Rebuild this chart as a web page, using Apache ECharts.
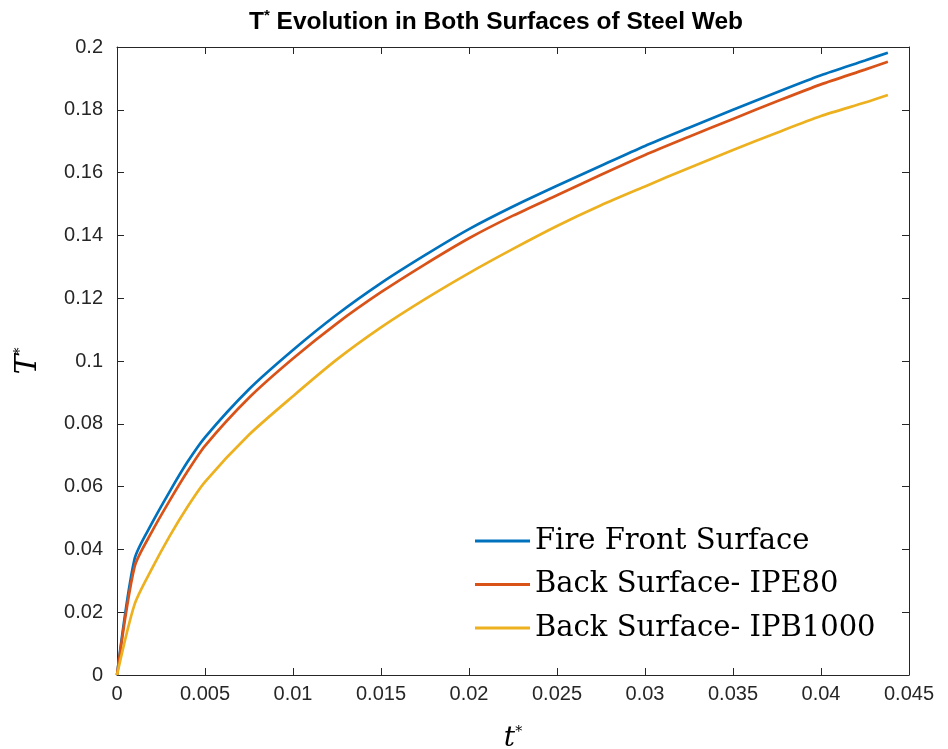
<!DOCTYPE html>
<html>
<head>
<meta charset="utf-8">
<script src="https://cdn.jsdelivr.net/npm/echarts@6/dist/echarts.min.js"></script>
<style>
  html, body { margin: 0; padding: 0; background: #fff; }
  #chart { width: 948px; height: 749px; }
</style>
</head>
<body>
<div id="chart"></div>
<script>
// t* samples and T* values
var tVals      = [0, 0.001, 0.002, 0.003, 0.004, 0.005, 0.0075, 0.01, 0.0125, 0.015, 0.0175, 0.02, 0.0225, 0.025, 0.0275, 0.03, 0.0325, 0.035, 0.0375, 0.04, 0.0425, 0.0438];
var fireFront  = [0, 0.0370, 0.0485, 0.0585, 0.0678, 0.0757, 0.0910, 0.1035, 0.1148, 0.1248, 0.1337, 0.1420, 0.1492, 0.1558, 0.1622, 0.1685, 0.1743, 0.1800, 0.1856, 0.1910, 0.1957, 0.1982];
var backIPE80  = [0, 0.0345, 0.0458, 0.0556, 0.0648, 0.0730, 0.0883, 0.1008, 0.1120, 0.1219, 0.1308, 0.1391, 0.1463, 0.1528, 0.1593, 0.1656, 0.1714, 0.1771, 0.1827, 0.1881, 0.1928, 0.1953];
var backIPB1000 = [0, 0.0225, 0.0340, 0.0443, 0.0535, 0.0615, 0.0765, 0.0888, 0.1005, 0.1107, 0.1197, 0.1280, 0.1357, 0.1430, 0.1496, 0.1556, 0.1615, 0.1672, 0.1727, 0.1780, 0.1823, 0.1847];
var seriesNames = ['Fire Front Surface', 'Back Surface- IPE80', 'Back Surface- IPB1000'];
var seriesColors = ['#0072BD', '#D95319', '#EDB120'];

function pairs(ys) {
    var out = [];
    for (var i = 0; i < tVals.length; i++) {
        out.push([tVals[i], ys[i]]);
    }
    return out;
}

var axisColor = '#262626';
var tickFont = 'Liberation Sans, Arial, sans-serif';

var baseX = {
    type: 'value',
    min: 0,
    max: 0.045,
    interval: 0.005,
    axisLine: { show: true, onZero: false, lineStyle: { color: axisColor, width: 1 } },
    axisTick: { show: true, inside: true, length: 7, lineStyle: { color: axisColor } },
    splitLine: { show: false }
};
var baseY = {
    type: 'value',
    min: 0,
    max: 0.2,
    interval: 0.02,
    axisLine: { show: true, onZero: false, lineStyle: { color: axisColor, width: 1 } },
    axisTick: { show: true, inside: true, length: 7, lineStyle: { color: axisColor } },
    splitLine: { show: false }
};

function makeLine(idx, ys) {
    return {
        name: seriesNames[idx],
        type: 'line',
        data: pairs(ys),
        showSymbol: false,
        symbol: 'none',
        smooth: 0.25,
        lineStyle: { width: 2.7, color: seriesColors[idx] },
        itemStyle: { color: seriesColors[idx] }
    };
}

var option = {
    animation: false,
    backgroundColor: '#ffffff',
    title: {
        text: '{t|T}{s|*}{t| Evolution in Both Surfaces of Steel Web}',
        left: 244,
        top: 3,
        textStyle: {
            rich: {
                t: { fontFamily: tickFont, fontWeight: 'bold', fontSize: 24.5, color: '#000' },
                s: { fontFamily: tickFont, fontWeight: 'bold', fontSize: 15, color: '#000', verticalAlign: 'top', padding: [0, 0, 13, 0] }
            }
        }
    },
    grid: { left: 117, right: 39, top: 47, bottom: 74, containLabel: false, outerBoundsMode: 'none' },
    legend: {
        orient: 'vertical',
        left: 475,
        top: 526,
        padding: 0,
        itemWidth: 55,
        itemHeight: 3,
        itemGap: 13.5,
        icon: 'rect',
        data: seriesNames,
        textStyle: { fontFamily: 'DejaVu Serif, serif', fontSize: 29, color: '#000', lineHeight: 30 }
    },
    xAxis: [
        Object.assign({}, baseX, {
            position: 'bottom',
            name: '{i|t}{s|*}',
            nameLocation: 'middle',
            nameGap: 50,
            nameTextStyle: {
                rich: {
                    i: { fontFamily: 'DejaVu Serif, serif', fontStyle: 'italic', fontSize: 28, color: '#000' },
                    s: { fontFamily: 'DejaVu Serif, serif', fontSize: 14, color: '#000', verticalAlign: 'top', padding: [0, 0, 14, 0] }
                }
            },
            axisLabel: {
                show: true, margin: 9, color: axisColor, fontFamily: tickFont, fontSize: 20,
                formatter: function (v) { return String(parseFloat(v.toFixed(3))); }
            }
        }),
        Object.assign({}, baseX, { position: 'top', axisLabel: { show: false } })
    ],
    yAxis: [
        Object.assign({}, baseY, {
            position: 'left',
            name: '{i|T}{s|*}',
            nameLocation: 'middle',
            nameRotate: 90,
            nameGap: 74,
            nameTextStyle: {
                rich: {
                    i: { fontFamily: 'DejaVu Serif, serif', fontStyle: 'italic', fontSize: 30, color: '#000' },
                    s: { fontFamily: 'DejaVu Serif, serif', fontSize: 14, color: '#000', verticalAlign: 'top', padding: [0, 0, 16, 0] }
                }
            },
            axisLabel: {
                show: true, margin: 14, color: axisColor, fontFamily: tickFont, fontSize: 20,
                formatter: function (v) { return String(parseFloat(v.toFixed(2))); }
            }
        }),
        Object.assign({}, baseY, { position: 'right', axisLabel: { show: false } })
    ],
    series: [
        makeLine(0, fireFront),
        makeLine(1, backIPE80),
        makeLine(2, backIPB1000)
    ]
};

var chart = echarts.init(document.getElementById('chart'));
chart.setOption(option);
window.addEventListener('resize', function () {
    chart.resize();
});
</script>
</body>
</html>
